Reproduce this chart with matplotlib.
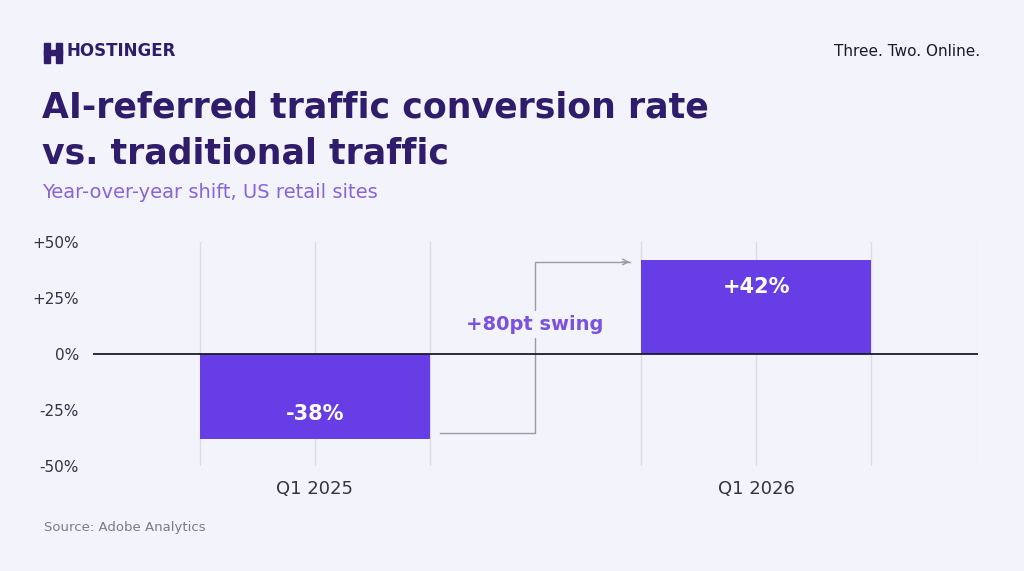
import matplotlib
matplotlib.use("Agg")
import matplotlib.pyplot as plt
from matplotlib.patches import Rectangle, Polygon

categories = ["Q1 2025", "Q1 2026"]
values = [-38, 42]
labels = ["-38%", "+42%"]
yticks = [-50, -25, 0, 25, 50]
yticklabels = ["-50%", "-25%", "0%", "+25%", "+50%"]

bg = "#F3F3FB"
purple = "#673DE6"
navy = "#2F1C6A"
fig = plt.figure(figsize=(10.24, 5.71), dpi=100, facecolor=bg)
W, H = 1024, 571
ax = fig.add_axes([93/W, 1-466/H, (978-93)/W, (466-242)/H], facecolor=bg)

x = list(range(len(categories)))
bw = 0.52
ax.bar(x, values, width=bw, color=purple, zorder=3)
for xi, v, l in zip(x, values, labels):
    ax.text(xi, v - 12 if v > 0 else v + 11, l, ha="center", va="center",
            color="white", fontsize=15, fontweight="bold", zorder=4)
ax.set_xlim(-0.503, 1.503)
ax.set_ylim(-50, 50)
gx = []
for xi in x:
    gx += [xi - bw/2, xi, xi + bw/2]
gx.append(1.503)
for g in gx:
    ax.axvline(g, color="#DCDCE8", lw=1, zorder=1)
ax.axhline(0, color="#1A1A2E", lw=1.3, zorder=4)
ax.set_yticks(yticks)
ax.set_yticklabels(yticklabels, fontsize=11, color="#333344")
ax.set_xticks(x)
ax.set_xticklabels(categories, fontsize=13, color="#333344")
ax.tick_params(length=0, pad=10)
ax.tick_params(axis="y", pad=10)
for s in ax.spines.values():
    s.set_visible(False)

# swing arrow
ax.plot([0.283, 0.499, 0.499, 0.715], [-35.3, -35.3, 41.1, 41.1],
        color="#9A9AAE", lw=1, zorder=2)
ax.annotate("", xy=(0.72, 41.1), xytext=(0.69, 41.1),
            arrowprops=dict(arrowstyle="->", color="#9A9AAE", lw=1))
ax.text(0.499, 13, "+80pt swing", ha="center", va="center", fontsize=14,
        fontweight="bold", color="#7A52E0", zorder=5,
        bbox=dict(facecolor=bg, edgecolor="none", pad=3))

# header
fig.text(66/W, 1-51/H, "HOSTINGER", fontsize=12, fontweight="bold", color=navy, va="center")
lx, ly = 44/W, 1-63/H
fig.add_artist(Rectangle((lx, ly), 6/W, 20/H, color=navy, transform=fig.transFigure))
fig.add_artist(Rectangle((lx+12/W, ly), 6/W, 20/H, color=navy, transform=fig.transFigure))
fig.add_artist(Rectangle((lx, ly+8/H), 18/W, 5/H, color=navy, transform=fig.transFigure))
fig.text(980/W, 1-51/H, "Three. Two. Online.", fontsize=11, color="#1A1A2E", ha="right", va="center")
fig.text(42/W, 1-108/H, "AI-referred traffic conversion rate", fontsize=25, fontweight="bold", color=navy, va="center")
fig.text(42/W, 1-153/H, "vs. traditional traffic", fontsize=25, fontweight="bold", color=navy, va="center")
fig.text(42/W, 1-192/H, "Year-over-year shift, US retail sites", fontsize=14, color="#8A64DC", va="center")
fig.text(44/W, 1-527/H, "Source: Adobe Analytics", fontsize=9.5, color="#7A7A8A", va="center")

fig.savefig("out.png", dpi=100, facecolor=bg)
